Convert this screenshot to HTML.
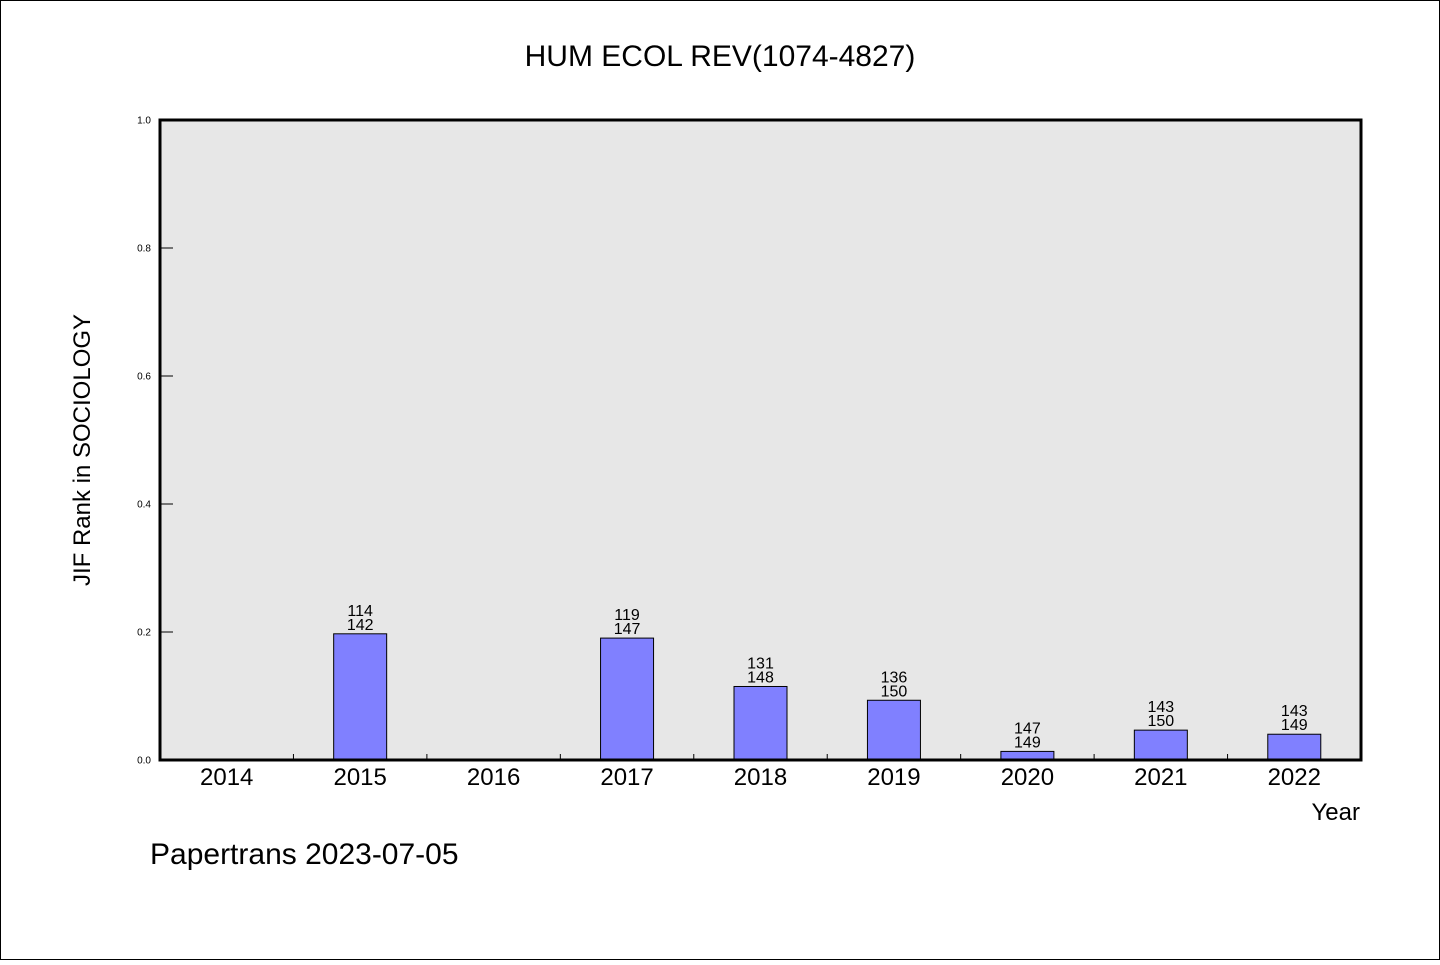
<!DOCTYPE html>
<html><head><meta charset="utf-8"><style>
body{margin:0;background:#fff}
svg text{font-family:"WenQuanYi Zen Hei","Liberation Sans",sans-serif;fill:#000}
</style></head><body>
<svg id="chart" width="1440" height="960" xmlns="http://www.w3.org/2000/svg">
<rect x="0.5" y="0.5" width="1439" height="959" fill="#fff" stroke="#000"/>
<text x="720" y="66" font-size="30" text-anchor="middle">HUM ECOL REV(1074-4827)</text>
<rect x="160" y="120" width="1201" height="640" fill="#e7e7e7"/>
<g id="bars"></g>
<g id="yticks"></g>
<g id="xticks"></g>
<rect x="160" y="120" width="1201" height="640" fill="none" stroke="#000" stroke-width="3"/>
<text transform="translate(90,450) rotate(-90)" font-size="24" text-anchor="middle">JIF Rank in SOCIOLOGY</text>
<text x="1360" y="820" font-size="24" text-anchor="end">Year</text>
<text x="150" y="864" font-size="30">Papertrans 2023-07-05</text>
</svg>
<script>
const years=["2014","2015","2016","2017","2018","2019","2020","2021","2022"];
const ranks=[null,114,null,119,131,136,147,143,143];
const totals=[null,142,null,147,148,150,149,150,149];
const yTicks=["0.0","0.2","0.4","0.6","0.8","1.0"];
const NS="http://www.w3.org/2000/svg";
const X0=160,X1=1361,Y0=760,Y1=120;
const step=(X1-X0)/years.length;
const xc=i=>X0+step*(i+0.5);
const ys=v=>Y0-(Y0-Y1)*v;
function mk(tag,attrs,parent){const e=document.createElementNS(NS,tag);for(const k in attrs)e.setAttribute(k,attrs[k]);parent.appendChild(e);return e;}
const bars=document.getElementById('bars'),yt=document.getElementById('yticks'),xt=document.getElementById('xticks');
years.forEach((y,i)=>{
  if(ranks[i]!==null){
    const v=(totals[i]-ranks[i])/totals[i];
    const r=mk('rect',{x:xc(i)-26.5,y:ys(v),width:53,height:Y0-ys(v),fill:'#8080ff',stroke:'#000','stroke-width':1},bars);
    
    
    const t1=mk('text',{x:xc(i),y:ys(v)-18,'font-size':16,'text-anchor':'middle'},bars);
    t1.textContent=ranks[i];
    
    
    const t2=mk('text',{x:xc(i),y:ys(v)-4,'font-size':16,'text-anchor':'middle'},bars);
    t2.textContent=totals[i];
    
    
  }
  const l=mk('text',{x:xc(i),y:785,'font-size':24,'text-anchor':'middle'},xt);
  l.textContent=y;
  
  
  if(i>0){
    const tk=mk('line',{x1:X0+step*i,x2:X0+step*i,y1:Y0,y2:Y0-6,stroke:'#000'},xt);
    
    
  }
});
yTicks.forEach((s,i)=>{
  const y=ys(parseFloat(s));
  const tk=mk('line',{x1:160,x2:173,y1:y,y2:y,stroke:'#000'},yt);
  
  
  const t=mk('text',{x:151,y:y+3.5,'font-size':10,'text-anchor':'end'},yt);
  t.textContent=s;
  
  
});
</script>
</body></html>
